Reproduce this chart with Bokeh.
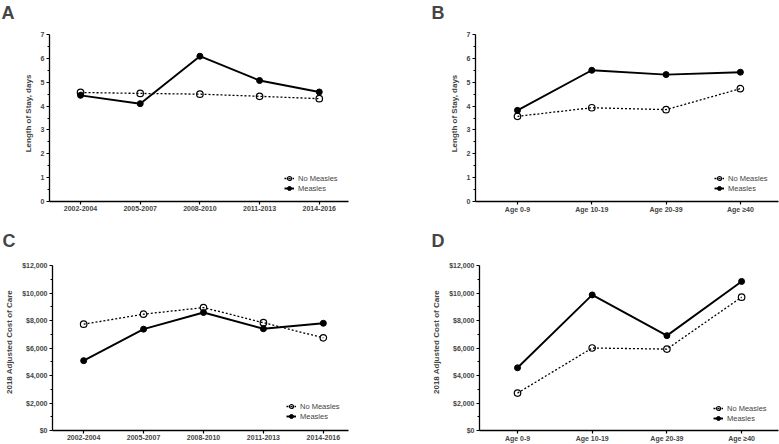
from bokeh.plotting import figure
from bokeh.layouts import row, column
from bokeh.models import FixedTicker, NumeralTickFormatter, Range1d, Legend, LegendItem
from bokeh.embed import file_html
from bokeh.resources import INLINE

periods = ["2002-2004", "2005-2007", "2008-2010", "2011-2013", "2014-2016"]
ages = ["Age 0-9", "Age 10-19", "Age 20-39", "Age \u226540"]

los_period_no = [4.57, 4.53, 4.50, 4.41, 4.31]
los_period_measles = [4.45, 4.10, 6.09, 5.07, 4.59]
los_age_no = [3.57, 3.93, 3.85, 4.73]
los_age_measles = [3.82, 5.50, 5.32, 5.42]
cost_period_no = [7730, 8460, 8940, 7840, 6740]
cost_period_measles = [5080, 7370, 8580, 7400, 7800]
cost_age_no = [2720, 6000, 5920, 9700]
cost_age_measles = [4560, 9860, 6900, 10840]

los_ticks = [0, 1, 2, 3, 4, 5, 6, 7]
los_minor = [0.5, 1.5, 2.5, 3.5, 4.5, 5.5, 6.5]
cost_ticks = [0, 2000, 4000, 6000, 8000, 10000, 12000]
cost_minor = [1000, 3000, 5000, 7000, 9000, 11000]

FONT = "Liberation Sans"


def panel(letter, cats, no, measles, ticks, minors, ylabel, money,
          width, height, bl, br, bt, bb, ytop_px, xstart, xend, leg_loc, title_offset):
    # frame spans bt .. height-bb; the top tick sits ytop_px below the canvas top
    fb = height - bb
    ymax = ticks[-1]
    yend = ymax * (fb - bt) / (fb - ytop_px)
    p = figure(width=width, height=height, output_backend="svg", toolbar_location=None,
               x_range=Range1d(xstart, xend), y_range=Range1d(0, yend),
               min_border_left=bl, min_border_right=br, min_border_top=bt,
               min_border_bottom=bb, title=letter)
    p.outline_line_color = None
    p.grid.visible = False
    p.background_fill_color = "white"
    p.border_fill_color = "white"

    p.title.text_font = FONT
    p.title.text_font_style = "bold"
    p.title.text_font_size = "18px"
    p.title.align = "left"
    p.title.vertical_align = "top"
    p.title.offset = title_offset
    p.title.standoff = 1

    xs = list(range(len(cats)))
    r1 = p.line(xs, no, line_color="black", line_width=1.3, line_dash="2 2")
    r2 = p.scatter(xs, no, size=6.5, marker="circle", line_color="black", line_width=1.2,
                   fill_color=None)
    r3 = p.line(xs, measles, line_color="black", line_width=1.9)
    r4 = p.scatter(xs, measles, size=6, marker="circle", line_color="black", fill_color="black")

    xa = p.xaxis[0]
    xa.ticker = FixedTicker(ticks=xs)
    xa.major_label_overrides = {i: c for i, c in enumerate(cats)}
    xa.major_tick_in = 0
    xa.major_tick_out = 3
    xa.minor_tick_out = 0
    xa.minor_tick_in = 0
    xa.axis_line_width = 1.3
    xa.major_tick_line_width = 1.2
    xa.major_label_text_font = FONT
    xa.major_label_text_font_style = "bold"
    xa.major_label_text_font_size = "7px"
    xa.major_label_standoff = 1

    ya = p.yaxis[0]
    ya.bounds = (0, ymax)
    ya.ticker = FixedTicker(ticks=ticks, minor_ticks=minors)
    ya.major_tick_in = 0
    ya.major_tick_out = 3
    ya.minor_tick_in = 0
    ya.minor_tick_out = 2
    ya.axis_line_width = 1.3
    ya.major_tick_line_width = 1.2
    ya.minor_tick_line_width = 1.0
    ya.major_label_text_font = FONT
    ya.major_label_text_font_style = "bold"
    ya.major_label_text_font_size = "7px"
    ya.major_label_standoff = 2
    if money:
        ya.formatter = NumeralTickFormatter(format="$0,0")
    ya.axis_label = ylabel
    ya.axis_label_text_font = FONT
    ya.axis_label_text_font_style = "bold"
    ya.axis_label_text_font_size = "8px"
    ya.axis_label_standoff = 5

    leg = Legend(items=[LegendItem(label="No Measles", renderers=[r1, r2]),
                        LegendItem(label="Measles", renderers=[r3, r4])],
                 location=leg_loc)
    leg.label_text_font = FONT
    leg.label_text_font_size = "7.5px"
    leg.label_height = 10
    leg.glyph_height = 10
    leg.glyph_width = 10
    leg.spacing = 0
    leg.padding = 0
    leg.margin = 0
    leg.label_standoff = 4
    leg.border_line_color = None
    leg.background_fill_alpha = 0
    p.add_layout(leg, "center")
    return p


pA = panel("A", periods, los_period_no, los_period_measles, los_ticks, los_minor,
           "Length of Stay, days", False,
           389, 222, 49, 41, 25, 21, 34, -0.52, 4.49, (235, 8), -48)
pB = panel("B", ages, los_age_no, los_age_measles, los_ticks, los_minor,
           "Length of Stay, days", False,
           390, 222, 86, 1, 25, 21, 34, -0.565, 3.513, (239, 8), -44)
pC = panel("C", periods, cost_period_no, cost_period_measles, cost_ticks, cost_minor,
           "2018 Adjusted Cost of Care", True,
           389, 222, 52, 41, 31, 14, 43, -0.52, 4.42, (234, 9), -50)
pD = panel("D", ages, cost_age_no, cost_age_measles, cost_ticks, cost_minor,
           "2018 Adjusted Cost of Care", True,
           390, 222, 90, 1, 31, 14, 43, -0.509, 3.494, (234, 7), -48)

layout = column(row(pA, pB, spacing=0), row(pC, pD, spacing=0), spacing=0)
open("out.html", "w").write(file_html(layout, INLINE))
